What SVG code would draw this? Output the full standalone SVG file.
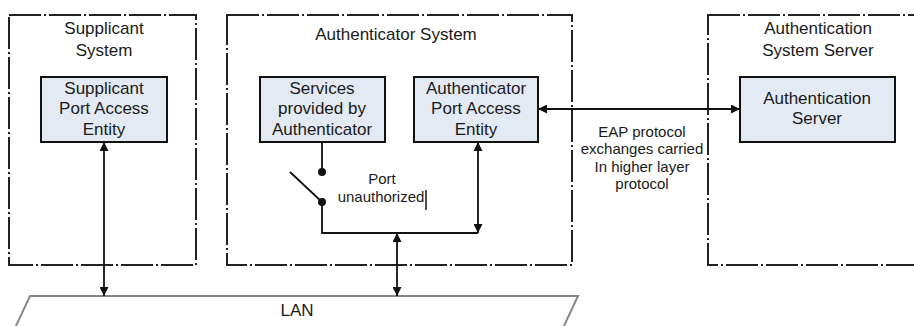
<svg xmlns="http://www.w3.org/2000/svg" width="914" height="326" viewBox="0 0 914 326">
  <style>
    .sys { fill: none; stroke: #222; stroke-width: 2; stroke-dasharray: 32 3 2 3; }
    .ent { fill: #e4eaf4; stroke: #111; stroke-width: 2; }
    .t { font-family: "Liberation Sans", Arial, sans-serif; font-size: 17px; fill: #1a1a1a; text-anchor: middle; }
    .s { font-family: "Liberation Sans", Arial, sans-serif; font-size: 15px; fill: #1a1a1a; text-anchor: middle; }
    .ln { fill: none; stroke: #111; stroke-width: 1.8; }
    .lan { fill: none; stroke: #888; stroke-width: 2; }
  </style>
  <defs>
    <marker id="ah" viewBox="0 0 10 10" refX="10" refY="5" markerWidth="11" markerHeight="9" orient="auto-start-reverse" markerUnits="userSpaceOnUse">
      <path d="M0,0 L10,5 L0,10 z" fill="#111"/>
    </marker>
  </defs>

  <!-- system boundaries -->
  <g id="supplicant-system">
    <rect class="sys" x="9" y="15" width="187" height="250"/>
    <text class="t" x="104" y="34">Supplicant</text>
    <text class="t" x="104" y="56">System</text>
  </g>
  <g id="authenticator-system">
    <rect class="sys" x="227" y="15" width="345" height="250"/>
    <text class="t" x="396" y="40">Authenticator System</text>
  </g>
  <g id="authentication-system-server">
    <rect class="sys" x="708" y="15" width="220" height="250"/>
    <text class="t" x="818" y="34">Authentication</text>
    <text class="t" x="818" y="56">System Server</text>
  </g>

  <!-- entities -->
  <g id="supplicant-pae">
    <rect class="ent" x="41" y="77" width="126" height="65"/>
    <text class="t" x="104" y="94">Supplicant</text>
    <text class="t" x="104" y="114">Port Access</text>
    <text class="t" x="104" y="135">Entity</text>
  </g>
  <g id="services">
    <rect class="ent" x="260" y="77" width="125" height="65"/>
    <text class="t" x="322" y="94">Services</text>
    <text class="t" x="322" y="114">provided by</text>
    <text class="t" x="322" y="135">Authenticator</text>
  </g>
  <g id="authenticator-pae">
    <rect class="ent" x="414" y="77" width="124" height="65"/>
    <text class="t" x="476" y="94">Authenticator</text>
    <text class="t" x="476" y="114">Port Access</text>
    <text class="t" x="476" y="135">Entity</text>
  </g>
  <g id="authentication-server">
    <rect class="ent" x="740" y="77" width="155" height="65"/>
    <text class="t" x="817" y="104">Authentication</text>
    <text class="t" x="817" y="124">Server</text>
  </g>

  <!-- LAN -->
  <g id="lan">
    <path class="lan" d="M15,328 L30,296 L578,296 L563,328"/>
    <text class="t" x="297" y="316">LAN</text>
  </g>

  <!-- port switch -->
  <g id="port-switch">
    <circle cx="322" cy="172" r="4" fill="#111"/>
    <circle cx="322" cy="202" r="4" fill="#111"/>
    <line class="ln" x1="290" y1="172" x2="322" y2="202"/>
    <text class="s" x="382" y="184">Port</text>
    <text class="s" x="381" y="202">unauthorized</text>
    <line x1="426" y1="190" x2="426" y2="210" stroke="#111" stroke-width="1.5"/>
  </g>

  <!-- connectors -->
  <g id="connectors">
    <line class="ln" x1="104" y1="142" x2="104" y2="296" marker-start="url(#ah)" marker-end="url(#ah)"/>
    <line class="ln" x1="322" y1="142" x2="322" y2="172"/>
    <polyline class="ln" points="322,202 322,233 478,233"/>
    <line class="ln" x1="478" y1="142" x2="478" y2="233" marker-start="url(#ah)" marker-end="url(#ah)"/>
    <line class="ln" x1="397" y1="233" x2="397" y2="296" marker-start="url(#ah)" marker-end="url(#ah)"/>
    <line class="ln" x1="538" y1="109" x2="740" y2="109" marker-start="url(#ah)" marker-end="url(#ah)"/>
    <text class="s" x="642" y="137">EAP protocol</text>
    <text class="s" x="642" y="154">exchanges carried</text>
    <text class="s" x="642" y="172">In higher layer</text>
    <text class="s" x="642" y="189">protocol</text>
  </g>
</svg>
